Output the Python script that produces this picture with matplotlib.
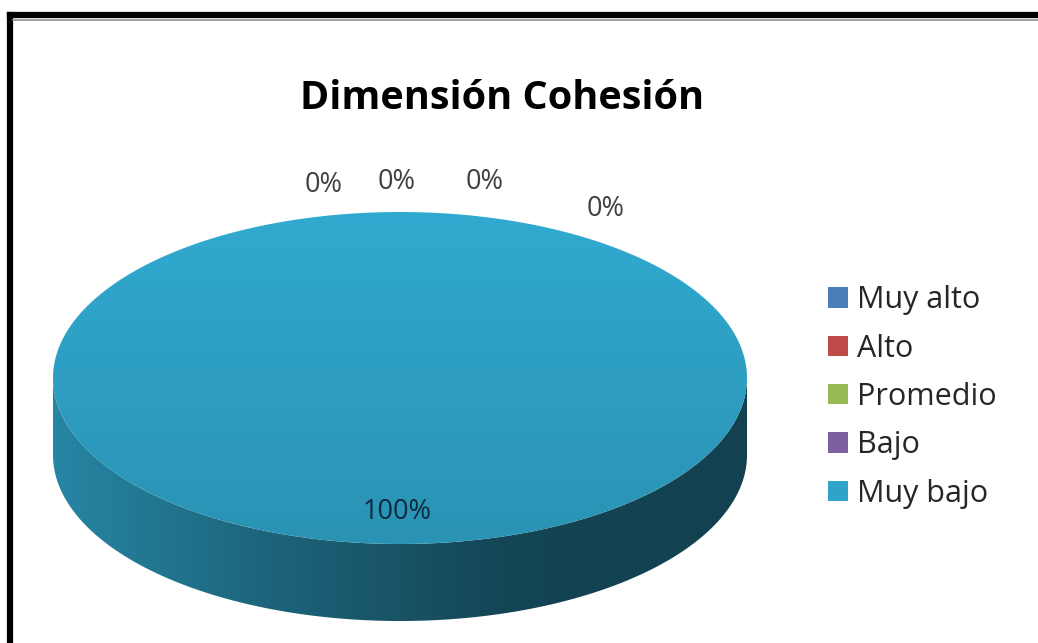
import numpy as np
import matplotlib.pyplot as plt
from matplotlib.patches import Polygon, Patch
from matplotlib.colors import LinearSegmentedColormap, to_rgb

plt.rcParams['font.family'] = ['Open Sans', 'DejaVu Sans']

# Data #
title = "Dimensión Cohesión"
categories = ["Muy alto", "Alto", "Promedio", "Bajo", "Muy bajo"]
values = [0, 0, 0, 0, 100]
colors = ["#4a7ebb", "#be4b48", "#98b954", "#7d60a0", "#2fa3c8"]

# Layout (pixel space) #
W, H = 1038, 643
cx, cy = 400, 378          # centre of the top face
rx, ry = 347, 166          # semi-axes of the top face
depth = 77                 # thickness of the disc
label_nudge = [(-76, -14), (-3, -17), (85, -17), (206, 10), (-3, -2)]


def ellipse_pt(theta, dy=0.0):
    # theta in degrees, clockwise from 12 o'clock
    t = np.radians(theta)
    return cx + rx * np.sin(t), cy - ry * np.cos(t) + dy


def shade(c, f):
    return tuple(min(1.0, v * f) for v in to_rgb(c))


fig = plt.figure(figsize=(W / 100, H / 100), dpi=100)
ax = fig.add_axes([0, 0, 1, 1])
ax.set_xlim(0, W)
ax.set_ylim(H, 0)
ax.axis("off")

total = float(sum(values))
angles = np.cumsum([0] + [v / total * 360 for v in values])

# Side walls first (front half only: 90..270 deg)
for i, v in enumerate(values):
    if v == 0:
        continue
    a0, a1 = max(angles[i], 90), min(angles[i + 1], 270)
    if a1 <= a0:
        continue
    th = np.linspace(a0, a1, 200)
    xt, yt = ellipse_pt(th)
    xb, yb = ellipse_pt(th[::-1], depth)
    pts = np.column_stack([np.r_[xt, xb], np.r_[yt, yb]])
    poly = Polygon(pts, closed=True, facecolor="none", edgecolor="none")
    ax.add_patch(poly)
    cmap = LinearSegmentedColormap.from_list(
        "side", [shade(colors[i], 0.82), shade(colors[i], 0.60),
                 shade(colors[i], 0.42), shade(colors[i], 0.40)])
    grad = np.linspace(0, 1, 256)[None, :]
    im = ax.imshow(grad, cmap=cmap, aspect="auto",
                   extent=(pts[:, 0].min(), pts[:, 0].max(),
                           pts[:, 1].max(), pts[:, 1].min()),
                   origin="upper", zorder=2, interpolation="bilinear")
    im.set_clip_path(poly)

# Top faces
for i, v in enumerate(values):
    if v == 0:
        continue
    th = np.linspace(angles[i], angles[i + 1], 400)
    xt, yt = ellipse_pt(th)
    if v < total:
        xt, yt = np.r_[cx, xt], np.r_[cy, yt]
    pts = np.column_stack([xt, yt])
    poly = Polygon(pts, closed=True, facecolor="none", edgecolor="none")
    ax.add_patch(poly)
    cmap = LinearSegmentedColormap.from_list(
        "top", [shade(colors[i], 1.04), shade(colors[i], 0.90)])
    grad = np.linspace(0, 1, 256)[:, None]
    im = ax.imshow(grad, cmap=cmap, aspect="auto",
                   extent=(pts[:, 0].min(), pts[:, 0].max(),
                           pts[:, 1].max(), pts[:, 1].min()),
                   origin="upper", zorder=3, interpolation="bilinear")
    im.set_clip_path(poly)

# Data labels
for i, v in enumerate(values):
    mid = np.radians((angles[i] + angles[i + 1]) / 2)
    pct = f"{v / total * 100:.0f}%"
    dx, dy = label_nudge[i]
    r, col = (1.1, "#404040") if v == 0 else (0.8, "#0e2a3e")
    x = cx + r * rx * np.sin(mid) + dx
    y = cy - r * ry * np.cos(mid) + dy
    ax.text(x, y, pct, ha="center", va="center_baseline", fontsize=19.5,
            color=col, zorder=5)

# Title
ax.text(502, 109, title, ha="center", va="baseline", fontsize=28.5,
        fontweight="bold", color="black")

# Legend
handles = [Patch(facecolor=c, edgecolor="none", label=n)
           for c, n in zip(colors, categories)]
ax.legend(handles=handles, loc="center left", bbox_to_anchor=(828, 397),
          bbox_transform=ax.transData, frameon=False, fontsize=22,
          borderpad=0, borderaxespad=0,
          handlelength=0.65, handleheight=0.65, handletextpad=0.3,
          labelspacing=0.6, labelcolor="#262626")

# Frame
ax.plot([10, 10], [H, 15], color="black", lw=4.5, solid_capstyle="projecting")
ax.plot([10, W], [15, 15], color="black", lw=4.5, solid_capstyle="projecting")
ax.plot([13, W], [19.5, 19.5], color="#8c8c8c", lw=1.2)

fig.savefig("out.png", dpi=100)
